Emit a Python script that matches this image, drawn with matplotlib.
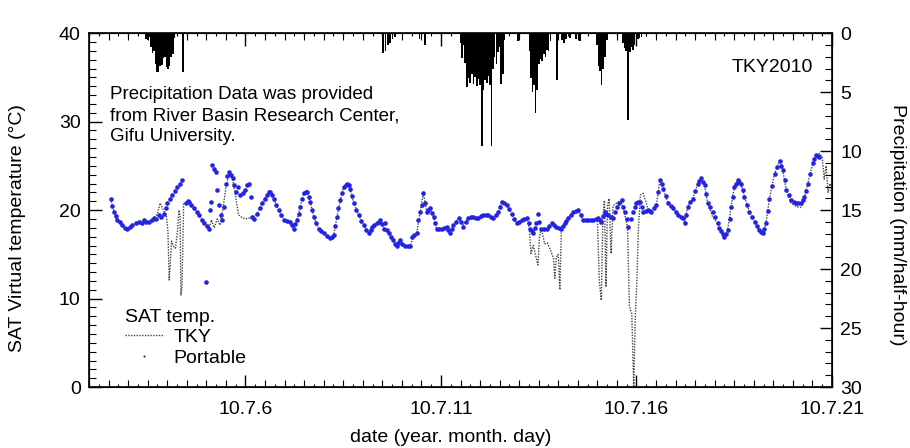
import matplotlib.pyplot as plt
from matplotlib.ticker import MultipleLocator, FixedLocator
from matplotlib.lines import Line2D

plt.rcParams['font.family'] = ['Liberation Sans', 'DejaVu Sans']

# portable sensor (day of July 2010, deg C)
port_day = [2.55, 2.60, 2.64, 2.68, 2.72, 2.78, 2.85, 2.92, 2.98, 3.04, 3.11, 3.20, 3.28, 3.35, 3.41, 3.47,
            3.53, 3.60, 3.66, 3.72, 3.79, 3.85, 3.92, 3.96, 4.00, 4.06, 4.13, 4.20, 4.26, 4.33, 4.39, 4.47,
            4.52, 4.56, 4.62, 4.69, 4.75, 4.81, 4.88, 4.94, 4.98, 5.01, 5.07, 5.10, 5.12, 5.15, 5.19, 5.24,
            5.28, 5.32, 5.37, 5.40, 5.45, 5.50, 5.54, 5.58, 5.63, 5.67, 5.71, 5.75, 5.80, 5.87, 5.93, 6.00,
            6.04, 6.08, 6.13, 6.17, 6.22, 6.30, 6.36, 6.42, 6.49, 6.55, 6.60, 6.64, 6.68, 6.72, 6.79, 6.85,
            6.92, 6.98, 7.06, 7.15, 7.19, 7.23, 7.28, 7.32, 7.36, 7.40, 7.45, 7.49, 7.54, 7.58, 7.62, 7.66,
            7.70, 7.75, 7.81, 7.87, 7.94, 8.00, 8.08, 8.17, 8.22, 8.26, 8.30, 8.34, 8.38, 8.43, 8.47, 8.51,
            8.56, 8.60, 8.64, 8.68, 8.72, 8.77, 8.83, 8.90, 8.96, 9.02, 9.08, 9.15, 9.20, 9.24, 9.30, 9.37,
            9.41, 9.45, 9.50, 9.54, 9.57, 9.62, 9.66, 9.72, 9.78, 9.83, 9.87, 9.91, 9.95, 10.01, 10.08, 10.15,
            10.21, 10.25, 10.31, 10.38, 10.42, 10.47, 10.51, 10.55, 10.60, 10.64, 10.68, 10.72, 10.77, 10.81,
            10.85, 10.89, 10.96, 11.02, 11.08, 11.15, 11.19, 11.23, 11.28, 11.32, 11.38, 11.45, 11.51, 11.57,
            11.63, 11.70, 11.77, 11.83, 11.90, 11.96, 12.02, 12.08, 12.15, 12.21, 12.28, 12.34, 12.40, 12.47,
            12.51, 12.55, 12.62, 12.68, 12.75, 12.81, 12.87, 12.94, 13.00, 13.07, 13.13, 13.19, 13.24, 13.28,
            13.32, 13.36, 13.40, 13.44, 13.48, 13.52, 13.57, 13.63, 13.70, 13.77, 13.83, 13.89, 13.95, 14.02,
            14.08, 14.13, 14.17, 14.21, 14.25, 14.32, 14.38, 14.45, 14.51, 14.57, 14.63, 14.70, 14.76, 14.83,
            14.89, 14.96, 15.02, 15.06, 15.10, 15.15, 15.19, 15.23, 15.27, 15.34, 15.40, 15.45, 15.49, 15.56,
            15.62, 15.66, 15.70, 15.75, 15.79, 15.85, 15.91, 15.96, 16.00, 16.04, 16.08, 16.13, 16.17, 16.24,
            16.30, 16.34, 16.38, 16.45, 16.51, 16.56, 16.60, 16.64, 16.68, 16.75, 16.81, 16.88, 16.94, 17.00,
            17.07, 17.13, 17.19, 17.23, 17.27, 17.31, 17.38, 17.44, 17.50, 17.57, 17.61, 17.65, 17.70, 17.74,
            17.78, 17.82, 17.89, 17.95, 18.02, 18.08, 18.12, 18.16, 18.21, 18.25, 18.29, 18.33, 18.38, 18.42,
            18.46, 18.50, 18.55, 18.59, 18.63, 18.67, 18.72, 18.76, 18.82, 18.89, 18.95, 19.02, 19.08, 19.14,
            19.19, 19.23, 19.27, 19.31, 19.36, 19.40, 19.47, 19.53, 19.59, 19.66, 19.70, 19.74, 19.79, 19.83,
            19.89, 19.95, 20.02, 20.08, 20.14, 20.21, 20.25, 20.29, 20.34, 20.38, 20.44, 20.51, 20.55, 20.59,
            20.64, 20.68]
port_temp = [21.3, 20.5, 19.8, 19.3, 18.9, 18.6, 18.3, 18.0, 17.9, 18.1, 18.3, 18.5, 18.7, 18.5, 18.9, 18.6,
             18.7, 18.9, 19.1, 19.0, 19.4, 19.2, 19.6, 20.2, 20.8, 21.2, 21.7, 22.2, 22.6, 23.0, 23.4, 20.8,
             21.0, 20.9, 20.6, 20.2, 19.8, 19.4, 18.9, 18.5, 11.9, 18.2, 17.9, 20.0, 20.9, 25.1, 24.6, 24.3,
             22.3, 20.6, 19.4, 18.9, 20.4, 23.0, 23.8, 24.3, 24.0, 23.6, 22.8, 22.1, 22.6, 21.7, 21.9, 22.3,
             22.8, 23.0, 21.5, 19.2, 19.0, 19.6, 20.2, 20.8, 21.3, 21.7, 22.0, 22.1, 21.7, 21.3, 20.6, 20.0,
             19.4, 18.9, 18.8, 18.7, 18.3, 17.9, 18.4, 18.9, 19.6, 20.4, 21.2, 21.9, 22.0, 22.1, 21.5, 20.9,
             20.0, 19.2, 18.5, 17.9, 17.6, 17.4, 17.1, 16.8, 17.0, 17.2, 18.2, 19.2, 20.2, 21.1, 21.9, 22.6,
             22.8, 23.0, 22.8, 22.4, 21.6, 20.8, 20.0, 19.4, 18.8, 18.3, 17.8, 17.4, 17.8, 18.1, 18.3, 18.5,
             18.7, 18.9, 18.4, 17.9, 18.5, 17.8, 17.4, 17.0, 16.6, 16.2, 15.9, 16.3, 16.6, 16.2, 16.0, 16.0,
             15.9, 17.0, 17.2, 17.4, 18.9, 19.8, 20.6, 21.9, 20.8, 19.8, 20.0, 20.2, 19.7, 19.2,
             18.5, 17.9, 17.9, 17.9, 18.0, 18.1, 17.7, 17.4, 17.9, 18.3, 18.7, 19.1, 18.6, 18.1,
             18.6, 19.1, 19.2, 19.2, 19.1, 19.1, 19.3, 19.4, 19.4, 19.4, 19.2, 19.1, 19.5, 19.8,
             20.4, 20.9, 20.8, 20.6, 20.1, 19.6, 19.0, 18.5, 18.7, 18.9, 19.0, 19.1, 18.5, 17.9,
             17.6, 17.4, 18.0, 18.5, 19.6, 18.6, 17.9, 17.9, 17.9, 18.2, 18.5, 18.3, 18.1, 18.0,
             17.9, 18.2, 18.5, 18.8, 19.1, 19.5, 19.8, 19.9, 20.0, 19.4, 18.9, 18.9, 18.9, 18.9,
             18.9, 19.0, 19.1, 18.9, 18.7, 19.3, 19.8, 19.6, 19.4, 19.2, 19.1, 19.8, 20.4, 20.8,
             21.1, 20.4, 19.8, 19.0, 18.1, 19.0, 19.8, 20.3, 20.8, 20.9, 20.9, 20.3, 19.8, 19.9,
             20.0, 19.9, 19.8, 20.2, 20.6, 22.0, 23.4, 22.9, 22.4, 21.6, 20.8, 20.5, 20.2, 19.8,
             19.4, 19.2, 19.1, 18.5, 19.5, 20.4, 20.9, 21.3, 22.2, 23.0, 23.3, 23.6, 23.2, 22.8,
             21.8, 20.8, 20.3, 19.8, 19.2, 18.5, 18.0, 17.6, 17.3, 17.0, 17.3, 17.7, 19.0, 20.4,
             21.5, 22.6, 23.0, 23.4, 23.2, 23.0, 22.3, 21.5, 20.6, 19.8, 19.2, 18.7, 18.2, 17.7,
             17.5, 17.4, 17.9, 18.5, 19.9, 21.3, 22.7, 24.1, 24.9, 25.6, 25.0, 24.5, 23.4, 22.3,
             21.7, 21.1, 20.9, 20.8, 20.8, 20.8, 21.1, 21.5, 22.2, 23.0, 24.1, 25.3, 25.8, 26.2,
             26.1, 26.0]

# TKY station
tky_day = [2.55, 2.64, 2.72, 2.85, 2.98, 3.11, 3.28, 3.41, 3.53, 3.66, 3.75, 3.82, 3.90, 3.98, 4.02, 4.05,
           4.08, 4.11, 4.16, 4.21, 4.26, 4.30, 4.33, 4.35, 4.38, 4.42, 4.47, 4.56, 4.69, 4.81, 4.94, 5.07,
           5.13, 5.20, 5.28, 5.35, 5.42, 5.50, 5.58, 5.67, 5.75, 5.82, 5.90, 6.00, 6.10, 6.17, 6.30, 6.42,
           6.55, 6.64, 6.72, 6.85, 6.98, 7.15, 7.23, 7.32, 7.40, 7.49, 7.58, 7.66, 7.75, 7.87, 8.00, 8.17,
           8.26, 8.34, 8.43, 8.51, 8.60, 8.68, 8.77, 8.90, 9.02, 9.15, 9.24, 9.37, 9.45, 9.54, 9.66, 9.78,
           9.87, 9.95, 10.08, 10.21, 10.30, 10.38, 10.47, 10.55, 10.64, 10.72, 10.81, 10.89, 11.02, 11.15,
           11.23, 11.32, 11.45, 11.57, 11.70, 11.83, 11.96, 12.08, 12.21, 12.34, 12.47, 12.55, 12.68, 12.81,
           12.94, 13.07, 13.19, 13.26, 13.30, 13.36, 13.44, 13.48, 13.52, 13.57, 13.65, 13.72, 13.80, 13.88,
           13.91, 13.95, 14.00, 14.04, 14.08, 14.17, 14.25, 14.38, 14.51, 14.63, 14.76, 14.89, 15.00, 15.05,
           15.10, 15.14, 15.18, 15.22, 15.26, 15.30, 15.35, 15.40, 15.49, 15.60, 15.70, 15.77, 15.82, 15.88,
           15.93, 15.97, 16.01, 16.05, 16.10, 16.17, 16.25, 16.30, 16.38, 16.51, 16.60, 16.68, 16.81, 16.94,
           17.07, 17.19, 17.23, 17.31, 17.44, 17.57, 17.65, 17.74, 17.82, 17.95, 18.08, 18.16, 18.25, 18.33,
           18.42, 18.50, 18.59, 18.67, 18.76, 18.89, 19.02, 19.14, 19.23, 19.31, 19.40, 19.53, 19.66, 19.74,
           19.83, 19.95, 20.08, 20.21, 20.29, 20.38, 20.51, 20.59, 20.68, 20.75, 20.80, 20.85, 20.90, 20.95,
           21.00]
tky_temp = [21.3, 19.8, 18.9, 18.3, 17.9, 18.3, 18.7, 18.9, 18.7, 19.1, 19.6, 20.8, 20.0, 19.4, 17.5, 12.1,
            14.0, 16.5, 15.9, 15.7, 17.5, 20.0, 19.3, 10.4, 11.5, 20.8, 20.8, 20.9, 20.2, 19.4, 18.5, 17.9,
            18.9, 18.0, 19.0, 18.3, 20.0, 22.5, 24.1, 23.6, 21.5, 19.5, 19.2, 19.0, 19.1, 19.1, 19.6, 20.8,
            21.7, 22.1, 21.3, 20.0, 18.9, 18.7, 17.9, 18.9, 20.4, 21.9, 22.1, 20.9, 19.2, 17.9, 17.4, 16.8,
            17.2, 19.2, 21.1, 22.6, 23.0, 22.4, 20.8, 19.4, 18.3, 17.4, 18.1, 18.5, 18.9, 17.9, 17.4, 16.6,
            15.9, 16.6, 16.0, 15.9, 17.1, 17.4, 19.8, 21.9, 19.8, 20.2, 19.2, 17.9, 17.9, 18.1,
            17.4, 18.3, 19.1, 18.3, 19.1, 19.2, 19.1, 19.4, 19.4, 19.1, 19.8, 20.9, 20.6, 19.6,
            18.5, 18.9, 19.1, 17.9, 15.1, 16.0, 14.5, 13.8, 17.0, 17.9, 16.2, 16.3, 15.5, 14.5,
            12.3, 14.7, 15.0, 11.0, 17.9, 18.5, 19.1, 19.8, 20.0, 18.9, 18.9, 18.9, 19.0, 12.0,
            9.8, 19.0, 21.1, 11.3, 20.5, 21.3, 15.1, 20.5, 20.8, 21.1, 19.5, 18.1, 9.1, 8.3,
            0.0, 8.0, 12.0, 18.0, 21.7, 21.9, 20.8, 20.0, 19.8, 20.6, 23.4, 22.4, 20.8, 20.2,
            19.4, 19.1, 18.5, 20.4, 21.3, 23.0, 23.6, 22.8, 20.8, 19.2, 18.5, 17.6, 17.0, 17.7,
            20.4, 22.6, 23.4, 23.0, 21.5, 19.8, 18.7, 17.7, 17.4, 18.5, 21.3, 24.1, 25.6, 24.5,
            22.3, 20.8, 20.4, 20.3, 21.3, 23.0, 25.3, 26.2, 26.4, 26.0, 23.5, 25.0, 22.0, 23.0,
            21.5]

# precipitation (mm/half-hour)
rain_day = [3.46, 3.50, 3.54, 3.58, 3.62, 3.66, 3.70, 3.74, 3.78, 3.82, 3.86, 3.90, 3.94, 3.98, 4.02, 4.06,
            4.10, 4.14, 4.18, 4.40,
            9.52, 9.58, 9.64, 9.70, 9.76, 9.82, 10.45, 10.59,
            11.50, 11.54, 11.58, 11.62, 11.67, 11.71, 11.75, 11.79, 11.83, 11.87, 11.92, 11.96, 12.00, 12.05,
            12.09, 12.13, 12.17, 12.21, 12.25, 12.29, 12.33, 12.37, 12.42, 12.46, 12.50, 12.54, 12.58, 12.62,
            12.97,
            13.26, 13.30, 13.34, 13.38, 13.42, 13.46, 13.50, 13.55, 13.59, 13.63, 13.67, 13.71, 13.75, 13.80,
            13.97, 14.10, 14.15, 14.20, 14.30, 14.45, 14.55,
            14.99, 15.03, 15.07, 15.11, 15.15, 15.20, 15.24,
            15.66, 15.70, 15.74, 15.79, 15.83, 15.87, 15.91, 15.95, 16.00, 16.04, 16.08, 16.13]
rain_mm = [0.5, 0.6, 0.3, 1.2, 1.7, 1.5, 2.6, 3.3, 3.3, 2.8, 2.7, 2.1, 2.0, 2.9, 3.0, 2.8,
           2.0, 1.8, 0.4, 3.3,
           1.7, 1.5, 1.0, 0.8, 0.5, 0.3, 0.5, 1.0,
           0.8, 2.1, 1.0, 2.5, 4.6, 3.8, 4.2, 3.5, 4.3, 3.7, 4.5, 3.9, 4.4, 9.6,
           4.8, 4.0, 4.2, 3.6, 4.4, 9.6, 3.0, 2.0, 2.6, 1.6, 1.2, 4.3, 3.5, 0.6,
           0.7,
           1.5, 3.8, 5.0, 4.4, 6.8, 4.8, 2.6, 2.2, 2.4, 1.8, 2.0, 1.4, 1.5, 0.7,
           4.0, 0.6, 0.8, 0.5, 0.4, 0.5, 0.7,
           1.0, 2.8, 3.2, 4.4, 3.0, 2.0, 0.6,
           0.8, 1.3, 1.5, 7.4, 1.6, 1.2, 1.4, 1.0, 0.8, 0.5, 0.4, 0.3]

xtick_days = [6, 11, 16, 21]
xtick_labels = ['10.7.6', '10.7.11', '10.7.16', '10.7.21']

fig = plt.figure(figsize=(9.1, 4.48), dpi=100)
ax = fig.add_axes([0.0978, 0.136, 0.8165, 0.790])

h_tky, = ax.plot(tky_day, tky_temp, color='#444444', lw=1.0, ls=(0, (1, 1)))
h_port, = ax.plot(port_day, port_temp, ls='none', marker='o', ms=3.3, mec='none', color='#2424e0')

ax.set_xlim(2, 21)
ax.set_ylim(0, 40)
ax.xaxis.set_major_locator(FixedLocator(xtick_days))
ax.set_xticklabels(xtick_labels)
ax.xaxis.set_minor_locator(MultipleLocator(0.5))
ax.yaxis.set_major_locator(MultipleLocator(10))
ax.yaxis.set_minor_locator(MultipleLocator(1))
ax.tick_params(axis='x', which='both', direction='in', top=True)
ax.tick_params(axis='x', which='major', length=9, width=1, pad=10, labelsize=14)
ax.tick_params(axis='x', which='minor', length=5, width=0.8)
ax.tick_params(axis='y', which='both', direction='in')
ax.tick_params(axis='y', which='major', length=9, width=1, pad=6, labelsize=14)
ax.tick_params(axis='y', which='minor', length=5, width=0.8)
for s in ax.spines.values():
    s.set_linewidth(1.2)

# quarter-day small ticks
for loc in ['bottom', 'top']:
    sec = ax.secondary_xaxis(loc)
    sec.xaxis.set_major_locator(MultipleLocator(0.25))
    sec.tick_params(direction='in', length=2.5, width=0.8, labelbottom=False, labeltop=False)
    sec.spines[loc].set_visible(False)

ax2 = ax.twinx()
ax2.bar(rain_day, rain_mm, width=0.042, color='black', align='center')
ax2.set_ylim(30, 0)
ax2.yaxis.set_major_locator(MultipleLocator(5))
ax2.yaxis.set_minor_locator(MultipleLocator(1))
ax2.tick_params(axis='y', which='both', direction='in')
ax2.tick_params(axis='y', which='major', length=9, width=1, pad=6, labelsize=14)
ax2.tick_params(axis='y', which='minor', length=5, width=0.8)

ax.set_ylabel('SAT Virtual temperature (°C)', fontsize=14, va='center')
ax.yaxis.set_label_coords(-0.0956, 0.45)
ax2.set_ylabel('Precipitation (mm/half-hour)', rotation=270, fontsize=14, va='center')
ax2.yaxis.set_label_coords(1.0875, 0.46)
ax.set_xlabel('date (year. month. day)', fontsize=14, va='center')
ax.xaxis.set_label_coords(0.487, -0.143)

ax.text(0.028, 0.85, 'Precipitation Data was provided\nfrom River Basin Research Center,\nGifu University.',
        transform=ax.transAxes, fontsize=13.5, va='top', linespacing=1.3)
ax.text(0.974, 0.904, 'TKY2010', transform=ax.transAxes, fontsize=14, ha='right', va='center')

leg_port = Line2D([], [], ls='none', marker='o', ms=1.5, mec='none', color='#222244')
ax2.legend([h_tky, leg_port], ['TKY', 'Portable'], title='SAT temp.', loc='upper left',
           bbox_to_anchor=(0.048, 0.222), frameon=False, fontsize=14, title_fontsize=14,
           handlelength=2.0, handletextpad=0.5, borderaxespad=0, borderpad=0,
           labelspacing=0.15, alignment='left')

fig.savefig('out.png', dpi=100)
